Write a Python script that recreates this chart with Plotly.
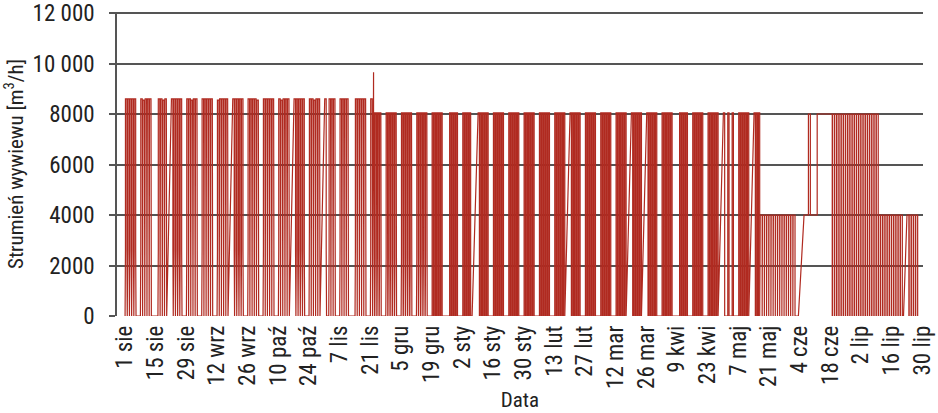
import plotly.graph_objects as go
import pandas as pd

# ---------------- data ----------------
START = "2011-08-01"  # Monday; each row below = one week Mon..Sun, None = no data

week_levels = [
    [8600, 8600, 8600, 8600, 8600, 0, 0],        # 1 sie
    [8600, 8550, 8600, 8600, 8600, 0, 0],
    [0, 8600, 8600, 8550, 8600, None, None],     # 15 sie
    [8600, 8600, 8600, 8600, 8600, 0, 0],
    [8600, 8600, 8550, 8600, 8600, 0, 0],        # 29 sie
    [8600, 8600, 8600, 8600, 8600, 0, 0],
    [8550, 8600, 8600, 8600, 8600, None, None],  # 12 wrz
    [8600, 8600, 8600, 8600, 8600, 0, 0],
    [8600, 8600, 8600, 8600, 8550, 0, 0],        # 26 wrz
    [8600, 8600, 8600, 8600, 8600, 0, 0],
    [8600, 8550, 8600, 8600, 8600, None, None],  # 10 paz
    [8600, 8600, 8600, 8600, 8600, 0, 0],
    [8600, 8600, 8550, 8600, 8600, None, None],  # 24 paz
    [8600, 0, 8600, 8600, 8600, 0, 0],
    [8600, 8600, 8600, 8600, 0, 0, 0],           # 7 lis
    [8600, 8600, 8600, 8600, 8600, 0, 0],
    [8600, 8050, 8050, 8050, 8050, 0, 0],        # 21 lis
    [8050, 8050, 8050, 8050, 8050, 0, 0],
    [8050, 8050, 8050, 8050, 8050, 0, 0],        # 5 gru
    [8050, 8050, 8050, 8050, 8050, 0, 0],
    [8050, 8050, 8050, 8050, 8050, 0, 0],        # 19 gru
    [0, 8050, 8050, 8050, 8050, 0, 0],
    [8050, 8050, 8050, 8050, 0, None, None],     # 2 sty
    [8050, 8050, 8050, 8050, 8050, 0, 0],
    [8050, 8050, 8050, 8050, 8050, 0, 0],        # 16 sty
    [8050, 8050, 8050, 8050, 8050, 0, 0],
    [8050, 8050, 8050, 8050, 8050, 0, 0],        # 30 sty
    [8050, 8050, 8050, 8050, 8050, 0, 0],
    [8050, 8050, 8050, 8050, 8050, None, None],  # 13 lut
    [8050, 8050, 8050, 8050, 8050, 0, 0],
    [8050, 8050, 8050, 8050, 8050, 0, 0],        # 27 lut
    [8050, 8050, 8050, 8050, 8050, 0, 0],
    [8050, 8050, 8050, 8050, 8050, None, None],  # 12 mar
    [8050, 8050, 8050, 8050, 8050, None, None],
    [8050, 8050, 8050, 8050, 8050, 0, 0],        # 26 mar
    [8050, 8050, 8050, 8050, 8050, None, None],
    [0, 8050, 8050, 8050, 8050, 0, 0],           # 9 kwi
    [8050, 8050, 8050, 8050, 8050, 0, 0],
    [8050, 8050, 8050, 8050, 8050, None, None],  # 23 kwi
    [8050, 0, 8050, 0, 8050, 0, 0],
    [8050, 8050, 8050, 8050, 8050, None, None],  # 7 maj
    [8050, 8050, 8050, 4000, 4000, 4000, 4000],
    [4000, 4000, 4000, 4000, 4000, 4000, 4000],  # 21 maj
    [4000, 4000, 4000, 4000, 4000, 0, 0],
    [None, None, 4000, 4000, 8000, 4000, 4000],  # 4 cze
    [4000, 8000, 8000, 8000, 8000, 8000, 8000],
    [8000, 8000, 8000, 8000, 8000, 8000, 8000],  # 18 cze
    [8000, 8000, 8000, 8000, 8000, 8000, 8000],
    [8000, 8000, 8000, 8000, 8000, 8000, 8000],  # 2 lip
    [8000, 4000, 4000, 4000, 4000, 4000, 4000],
    [4000, 4000, 4000, 4000, 4000, 0, None],     # 16 lip
    [4000, 4000, 4000, 4000, 4000, None, None],
]

# operating schedule (hour on, hour off) and evening run-down value
sched_from = ["2011-08-01", "2011-10-24", "2011-10-31", "2011-11-22", "2011-12-19", "2012-05-17"]
sched_on = [5, 5, 5, 6, 6, 2]
sched_off = [21, 21, 21, 20, 20, 23]
sched_ramp = [2600, 3500, 2600, 2300, 0, 0]

# standby (night) flow when it was not switched off
base_from = ["2012-06-06", "2012-06-12", "2012-06-18"]
base_value = [4000, 8000, 0]

# single short peak
spike_date = ["2011-11-22"]
spike_value = [9650]

tick_dates = ["2011-08-01", "2011-08-15", "2011-08-29", "2011-09-12", "2011-09-26",
              "2011-10-10", "2011-10-24", "2011-11-07", "2011-11-21", "2011-12-05",
              "2011-12-19", "2012-01-02", "2012-01-16", "2012-01-30", "2012-02-13",
              "2012-02-27", "2012-03-12", "2012-03-26", "2012-04-09", "2012-04-23",
              "2012-05-07", "2012-05-21", "2012-06-04", "2012-06-18", "2012-07-02",
              "2012-07-16", "2012-07-30"]
tick_labels = ["1 sie", "15 sie", "29 sie", "12 wrz", "26 wrz", "10 paź", "24 paź",
               "7 lis", "21 lis", "5 gru", "19 gru", "2 sty", "16 sty", "30 sty",
               "13 lut", "27 lut", "12 mar", "26 mar", "9 kwi", "23 kwi", "7 maj",
               "21 maj", "4 cze", "18 cze", "2 lip", "16 lip", "30 lip"]

y_ticks = [0, 2000, 4000, 6000, 8000, 10000, 12000]
y_labels = ["0", "2000", "4000", "6000", "8000", "10 000", "12 000"]

# ---------------- build the time series ----------------
t0 = pd.Timestamp(START)
sf = [pd.Timestamp(s) for s in sched_from]
bf = [pd.Timestamp(s) for s in base_from]
spikes = {pd.Timestamp(d): v for d, v in zip(spike_date, spike_value)}
H = pd.Timedelta(hours=1)


def schedule(day):
    i = max(k for k in range(len(sf)) if sf[k] <= day)
    return sched_on[i], sched_off[i], sched_ramp[i]


def base(day):
    ks = [k for k in range(len(bf)) if bf[k] <= day]
    return base_value[ks[-1]] if ks else 0


xs, ys = [], []
prev_missing, prev_base = False, 0
for w, row in enumerate(week_levels):
    for d, L in enumerate(row):
        day = t0 + pd.Timedelta(days=7 * w + d)
        if L is None:
            prev_missing = True
            continue
        B = base(day)
        on, off, R = schedule(day)
        if L == 0:
            xs.append(day + 12 * H); ys.append(B)
        else:
            if not prev_missing:
                if R > 0:
                    xs += [day + (on - 4) * H, day + on * H]; ys += [prev_base, R]
                else:
                    xs.append(day + on * H); ys.append(prev_base)
            xs.append(day + on * H); ys.append(L)
            if day in spikes:
                xs += [day + 12 * H] * 3; ys += [L, spikes[day], L]
            xs.append(day + off * H); ys.append(L)
            if R > 0:
                xs += [day + off * H, day + (off + 4) * H]; ys += [R, B]
            else:
                xs.append(day + off * H); ys.append(B)
        prev_missing, prev_base = False, B

FONT = "Liberation Sans Narrow, Arial Narrow, Roboto Condensed, DejaVu Sans Condensed, sans-serif"

fig = go.Figure(go.Scatter(x=xs, y=ys, mode="lines",
                           line=dict(color="#B02A20", width=1.2),
                           hoverinfo="skip", showlegend=False))

fig.update_layout(
    width=938, height=413,
    margin=dict(l=117, r=15, t=12, b=97, autoexpand=False),
    paper_bgcolor="white", plot_bgcolor="white",
    font=dict(family=FONT, size=21, color="#222222"),
    xaxis=dict(
        range=[t0 - pd.Timedelta(hours=87.6), t0 + pd.Timedelta(hours=364.4 * 24)],
        tickvals=[pd.Timestamp(s) for s in tick_dates], ticktext=tick_labels,
        tickangle=-90, showgrid=False, zeroline=False, automargin=False,
        showline=False, ticks="", tickfont=dict(size=23), ticklabelstandoff=4,
        title=dict(text="Data", font=dict(size=21), standoff=4),
    ),
    yaxis=dict(
        range=[0, 12040], tickvals=y_ticks, ticktext=y_labels, automargin=False,
        showgrid=True, gridcolor="#555555", gridwidth=1.5,
        zeroline=False, showline=True, linecolor="#555555", linewidth=1.5,
        ticks="outside", ticklen=6, tickcolor="#555555", tickwidth=1.5,
        ticklabelstandoff=10, tickfont=dict(size=23),
        title=dict(text="Strumień wywiewu [m<sup>3</sup>/h]", font=dict(size=21), standoff=8),
    ),
)

fig.write_html("out.html")
